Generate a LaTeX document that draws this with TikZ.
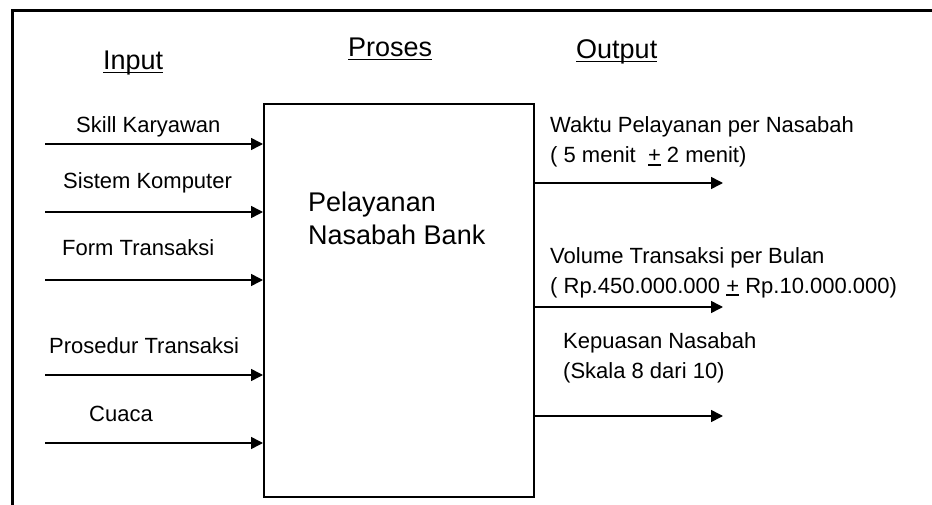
\documentclass[tikz,border=0pt]{standalone}
\usepackage{fontspec}
\setmainfont{Liberation Sans}
\usetikzlibrary{arrows.meta}
\newsavebox\ulbox
\newcommand\myul[2][3.5pt]{\sbox\ulbox{#2}\rlap{\rule[-#1]{\wd\ulbox}{1.8pt}}\usebox\ulbox}
\begin{document}
\begin{tikzpicture}[x=1pt,y=-1pt,
  lbl/.style={font=\fontsize{22}{30}\selectfont, anchor=base west, inner sep=0pt, align=left},
  head/.style={font=\fontsize{27}{32}\selectfont, anchor=base west, inner sep=0pt},
  arr/.style={line width=1.6pt, -{Triangle[length=12pt,width=12pt]}},
  frameline/.style={line width=3pt},
  procbox/.style={draw, line width=2pt, minimum width=270pt, minimum height=393pt, anchor=north west, inner sep=0pt}]
\useasboundingbox (0,0) rectangle (932,505);
% outer frame (cropped at right and bottom)
\coordinate (fbl) at (12,505);
\coordinate (ftl) at (12,11);
\coordinate (ftr) at (932,11);
\draw[frameline] (fbl) -- (ftl) -- (ftr);
% headings
\node[head] (hin) at (103,70) {\myul{Input}};
\node[head] (hpro) at (348,57) {\myul{Proses}};
\node[head] (hout) at (576,59) {\myul{Output}};
% process box
\node[procbox] (proc) at (263,103) {};
\node[font=\fontsize{27}{33}\selectfont, anchor=base west, inner sep=0pt, align=left] (ptext) at (308,245) {Pelayanan\\Nasabah Bank};
% inputs
\node[lbl] (l1) at (76,133) {Skill Karyawan};
\node[lbl] (l2) at (63,189) {Sistem Komputer};
\node[lbl] (l3) at (62,255) {Form Transaksi};
\node[lbl] (l4) at (49,353) {Prosedur Transaksi};
\node[lbl] (l5) at (89,421) {Cuaca};
\coordinate (i1) at (45,144);
\coordinate (i2) at (45,212);
\coordinate (i3) at (45,280);
\coordinate (i4) at (45,375);
\coordinate (i5) at (45,443);
\foreach \i in {1,...,5} \draw[arr] (i\i) -- (i\i -| proc.west);
% outputs
\node[lbl] (r1) at (550,163) {Waktu Pelayanan per Nasabah\\( 5 menit\ \ \myul[3pt]{+} 2 menit)};
\node[lbl] (r2) at (550,293) {Volume Transaksi per Bulan\\( Rp.450.000.000 \myul[3pt]{+} Rp.10.000.000)};
\node[lbl] (r3) at (563,378) {Kepuasan Nasabah\\(Skala 8 dari 10)};
\coordinate (o1) at (723,183);
\coordinate (o2) at (723,307);
\coordinate (o3) at (723,416);
\foreach \i in {1,2,3} \draw[arr] (proc.east |- o\i) -- (o\i);
\end{tikzpicture}
\end{document}
